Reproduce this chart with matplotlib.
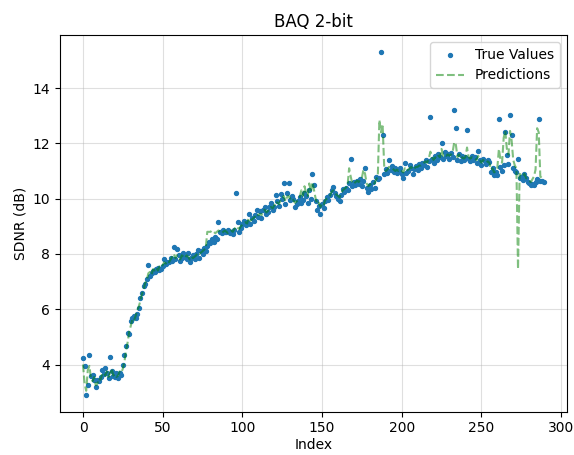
import matplotlib
matplotlib.use("Agg")
import matplotlib.pyplot as plt
import numpy as np

true_values = [
    4.24, 3.94, 2.91, 3.27, 4.33, 3.60, 3.62, 3.45, 3.18, 3.45,
    3.40, 3.55, 3.80, 3.65, 3.88, 3.70, 3.50, 4.28, 3.76, 3.58,
    3.55, 3.70, 3.50, 3.70, 3.62, 4.00, 4.35, 4.67, 5.15, 5.10,
    5.58, 5.70, 5.76, 5.70, 5.82, 6.06, 6.42, 6.60, 6.85, 6.90,
    7.10, 7.60, 7.20, 7.30, 7.40, 7.35, 7.45, 7.50, 7.42, 7.45,
    7.55, 7.80, 7.62, 7.70, 7.70, 7.85, 7.75, 8.25, 7.80, 8.17,
    7.95, 7.75, 7.85, 8.05, 7.90, 7.80, 8.05, 7.70, 7.85, 7.95,
    7.80, 8.00, 8.15, 7.85, 8.10, 8.00, 8.20, 8.10, 8.30, 8.45,
    8.40, 8.55, 8.45, 8.60, 8.55, 9.15, 8.80, 8.75, 8.85, 8.80,
    8.78, 8.85, 8.75, 8.80, 8.72, 8.85, 10.20, 9.15, 8.80, 8.95,
    9.10, 9.20, 9.05, 9.15, 9.45, 9.10, 9.30, 9.20, 9.40, 9.60,
    9.35, 9.55, 9.30, 9.60, 9.70, 9.45, 9.50, 9.70, 9.85, 9.60,
    9.70, 10.15, 9.90, 9.75, 10.18, 10.00, 10.58, 9.80, 10.20, 10.55,
    9.95, 10.10, 9.97, 9.70, 9.80, 9.90, 10.05, 9.85, 9.95, 10.20,
    10.10, 9.85, 10.30, 10.00, 10.90, 10.48, 9.90, 9.60, 9.75, 9.45,
    9.80, 9.65, 9.90, 10.05, 9.95, 10.15, 10.30, 10.44, 10.20, 10.10,
    10.00, 9.90, 10.15, 10.35, 10.25, 10.40, 10.30, 10.55, 11.42, 10.45,
    10.60, 10.50, 10.64, 10.53, 10.70, 10.45, 10.64, 11.12, 10.40, 10.25,
    10.50, 10.35, 10.60, 10.40, 10.80, 10.70, 10.76, 15.30, 12.32, 10.88,
    11.06, 10.94, 11.39, 11.05, 11.17, 10.95, 11.12, 10.94, 11.00, 11.10,
    10.88, 10.76, 11.30, 10.94, 11.00, 11.20, 11.12, 10.90, 11.06, 11.17,
    11.05, 11.25, 11.10, 11.30, 11.20, 11.40, 11.15, 11.35, 12.96, 11.45,
    11.30, 11.55, 11.40, 11.60, 11.50, 12.00, 11.45, 11.70, 11.55, 11.60,
    11.45, 11.65, 11.50, 13.20, 12.55, 11.40, 11.60, 11.35, 11.55, 11.40,
    11.50, 12.50, 11.45, 11.35, 11.55, 11.40, 11.50, 11.30, 11.73, 11.39,
    11.20, 11.45, 11.35, 11.27, 11.40, 11.33, 10.97, 11.10, 10.85, 10.95,
    10.85, 12.88, 11.15, 11.00, 11.20, 12.42, 11.58, 11.25, 13.03, 12.30,
    11.10, 11.00, 10.97, 11.42, 10.73, 10.80, 10.67, 10.90, 10.75, 10.60,
    10.55, 10.48, 10.52, 10.48, 10.60, 10.70, 12.88, 10.64, 10.65, 10.60,
]

predictions = [
    4.00, 3.30, 3.05, 3.80, 3.95, 3.50, 3.40, 3.55, 3.25, 3.30,
    3.50, 3.45, 3.65, 3.70, 3.60, 3.75, 3.55, 3.70, 3.85, 3.60,
    3.65, 3.55, 3.60, 3.75, 3.70, 3.85, 4.10, 4.50, 4.80, 5.20,
    5.40, 5.65, 5.60, 5.75, 5.95, 6.10, 6.30, 6.55, 6.70, 6.95,
    7.05, 7.30, 7.35, 7.25, 7.45, 7.40, 7.50, 7.40, 7.55, 7.50,
    7.60, 7.70, 7.65, 7.75, 7.70, 7.80, 7.90, 8.00, 7.85, 7.95,
    7.90, 7.80, 7.95, 7.90, 7.85, 7.95, 7.90, 7.80, 7.90, 7.85,
    7.90, 7.95, 8.05, 8.00, 8.05, 8.10, 8.15, 8.20, 8.80, 8.80,
    8.80, 8.85, 8.80, 8.75, 8.80, 8.85, 8.80, 8.75, 8.80, 8.85,
    8.80, 8.75, 8.80, 8.85, 8.80, 8.90, 9.00, 8.95, 8.90, 9.00,
    9.05, 9.10, 9.15, 9.10, 9.30, 9.20, 9.25, 9.30, 9.35, 9.45,
    9.40, 9.45, 9.40, 9.55, 9.60, 9.50, 9.55, 9.65, 9.70, 9.65,
    9.75, 9.90, 9.85, 9.80, 9.95, 10.00, 10.10, 9.90, 10.05, 10.10,
    10.00, 10.05, 9.95, 9.85, 9.90, 9.95, 10.05, 10.30, 10.10, 10.45,
    10.20, 10.10, 10.55, 10.25, 10.60, 10.30, 10.00, 9.80, 9.85, 9.70,
    9.80, 9.75, 9.95, 10.00, 10.05, 10.10, 10.25, 10.30, 10.20, 10.15,
    10.10, 10.05, 10.20, 10.30, 10.35, 10.40, 10.45, 11.10, 10.80, 10.55,
    10.55, 10.60, 10.65, 10.60, 10.70, 10.75, 11.05, 10.90, 10.55, 10.45,
    10.50, 10.55, 10.60, 10.55, 10.70, 10.80, 12.85, 12.40, 12.70, 11.20,
    11.00, 11.05, 11.15, 11.10, 11.10, 11.05, 11.00, 11.05, 11.00, 11.05,
    11.00, 10.95, 11.10, 11.00, 11.05, 11.10, 11.15, 11.05, 11.10, 11.15,
    11.15, 11.20, 11.20, 11.25, 11.30, 11.35, 11.30, 11.45, 11.70, 11.50,
    11.40, 11.50, 11.45, 11.55, 11.50, 11.80, 11.55, 11.60, 11.55, 11.60,
    11.55, 11.60, 11.70, 12.05, 11.95, 11.50, 11.60, 11.45, 11.50, 11.45,
    11.50, 11.85, 11.50, 11.45, 11.50, 11.45, 11.45, 11.40, 11.55, 11.40,
    11.30, 11.40, 11.35, 11.30, 11.35, 11.30, 11.05, 11.10, 10.95, 11.00,
    11.10, 11.80, 11.40, 11.30, 12.20, 12.45, 11.80, 11.60, 12.45, 12.10,
    11.40, 11.20, 11.10, 7.45, 10.90, 10.85, 10.80, 10.90, 10.75, 10.70,
    10.65, 10.60, 10.70, 10.80, 11.05, 12.55, 12.40, 10.80, 10.75, 10.70,
]

title = "BAQ 2-bit"
xlabel = "Index"
ylabel = "SDNR (dB)"

idx = np.arange(len(true_values))

fig = plt.figure(figsize=(5.74, 4.55), dpi=100)
ax = fig.add_axes([0.1045, 0.095, 0.8825, 0.828])
ax.scatter(idx, true_values, s=8, color="#1f77b4", label="True Values", zorder=2)
ax.plot(idx, predictions, "g--", alpha=0.5, linewidth=1.5, label="Predictions", zorder=3)
ax.set_title(title)
ax.set_xlabel(xlabel, labelpad=2)
ax.set_ylabel(ylabel)
ax.grid(True, alpha=0.4)
ax.legend(loc="upper right")
fig.savefig("out.png", dpi=100)
